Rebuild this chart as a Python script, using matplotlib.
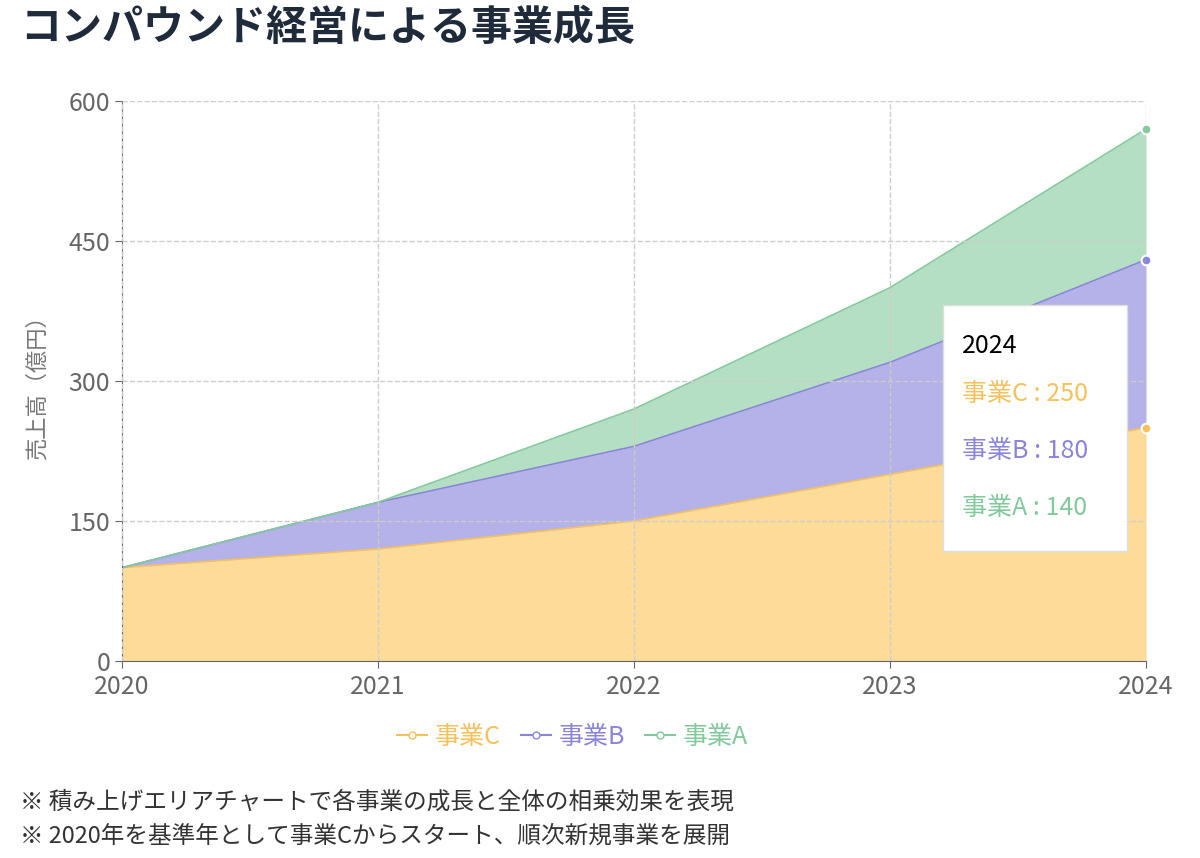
import matplotlib.pyplot as plt
import numpy as np

plt.rcParams['font.family'] = ['Noto Sans CJK JP', 'DejaVu Sans']

years = [2020, 2021, 2022, 2023, 2024]
biz_c = [100, 120, 150, 200, 250]
biz_b = [0, 50, 80, 120, 180]
biz_a = [0, 0, 40, 80, 140]
names = ['事業C', '事業B', '事業A']
fills = ['#fddc9a', '#b4b2e8', '#b5dfc4']
lines = ['#f6c15c', '#8a85d8', '#82c99c']
yticks = [0, 150, 300, 450, 600]

fig = plt.figure(figsize=(12, 8.58), dpi=100)
ax = fig.add_axes([122 / 1200, 1 - 661 / 858, 1024 / 1200, 560 / 858])

x = np.array(years)
lower = np.zeros(len(years))
for vals, fc, lc, name in zip([biz_c, biz_b, biz_a], fills, lines, names):
    upper = lower + np.array(vals)
    ax.fill_between(x, lower, upper, color=fc, lw=0)
    ax.plot(x, upper, color=lc, lw=1.2)
    ax.plot([x[-1]], [upper[-1]], 'o', color=lc, ms=7, mec='white', mew=1.5, clip_on=False)
    ax.plot([], [], '-o', color=lc, mfc='white', ms=5, label=name)
    lower = upper

ax.set_xlim(2020, 2024)
ax.set_ylim(0, 600)
ax.set_xticks(years)
ax.set_yticks(yticks)
ax.grid(True, ls='--', color='#cccccc', lw=1)
ax.set_axisbelow(False)
for s in ['top', 'right']:
    ax.spines[s].set_visible(False)
ax.spines['left'].set_color('#666666')
ax.spines['bottom'].set_color('#666666')
ax.tick_params(labelsize=18, colors='#666666', length=5)
ax.tick_params(axis='x', pad=4)
ax.set_ylabel('売上高（億円）', fontsize=16, color='#777777', labelpad=14)

leg = ax.legend(loc='center', bbox_to_anchor=(0.44, -0.135), ncol=3, frameon=False,
                fontsize=18, handlelength=1.2, columnspacing=0.8, handletextpad=0.3)
for t, c in zip(leg.get_texts(), lines):
    t.set_color(c)

# tooltip
fig.patches.append(plt.Rectangle((943 / 1200, 1 - 551 / 858), 184 / 1200, 246 / 858,
                                 transform=fig.transFigure, fc='white', ec='#dddddd', lw=1, zorder=10))
fig.text(962 / 1200, 1 - 346 / 858, '2024', fontsize=18, color='black', va='center', zorder=11)
tip_vals = [biz_c[-1], biz_b[-1], biz_a[-1]]
for i, (n, v, c) in enumerate(zip(names, tip_vals, lines)):
    fig.text(962 / 1200, 1 - (394 + 57 * i) / 858, f'{n} : {v}', fontsize=18, color=c,
             va='center', zorder=11)

fig.text(20 / 1200, 1 - 28 / 858, 'コンパウンド経営による事業成長', fontsize=29.5, fontweight='bold',
         color='#1f2a3a', va='center')
fig.text(20 / 1200, 1 - 802 / 858, '※ 積み上げエリアチャートで各事業の成長と全体の相乗効果を表現',
         fontsize=17, color='#333333', va='center')
fig.text(20 / 1200, 1 - 836 / 858, '※ 2020年を基準年として事業Cからスタート、順次新規事業を展開',
         fontsize=17, color='#333333', va='center')

fig.savefig('out.png', dpi=100)
